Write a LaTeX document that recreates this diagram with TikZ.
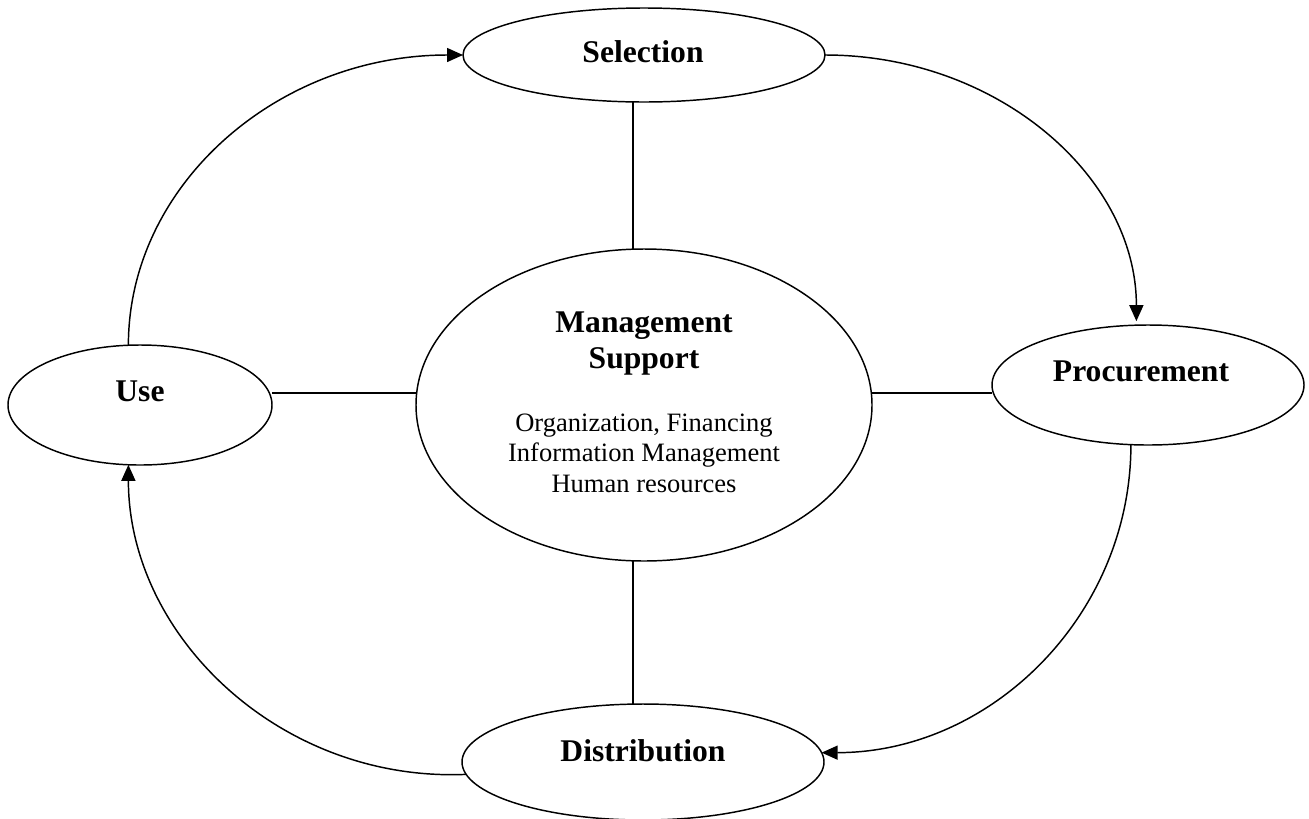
\documentclass[tikz,border=0pt]{standalone}
\usepackage{fontspec}
\setmainfont{Liberation Serif}
\usetikzlibrary{shapes.geometric,arrows.meta,calc}

\begin{document}
\begin{tikzpicture}[
  x=0.75pt, y=-0.75pt,
  line width=1.1pt,
  stage/.style={draw, ellipse, inner sep=0pt, outer sep=0pt},
  title/.style={anchor=base, inner sep=0pt, font=\fontsize{23.7}{27}\selectfont\bfseries},
  detail/.style={anchor=base, inner sep=0pt, font=\fontsize{19.9}{22.5}\selectfont},
  flow/.style={-{Triangle[length=12pt,width=10.5pt]}},
]
\useasboundingbox (0,0) rectangle (1309,818);

% stage ellipses
\node[stage, minimum width=271.5pt, minimum height=70.5pt] (selection) at (644,55) {};
\node[stage, minimum width=234pt, minimum height=90pt] (procurement) at (1148,385) {};
\node[stage, minimum width=198pt, minimum height=90pt] (use) at (140,405) {};
\node[stage, minimum width=271.5pt, minimum height=87pt] (distribution) at (643,762) {};
\node[stage, minimum width=342pt, minimum height=234pt] (mgmt) at (644,405) {};

% labels
\node[title] (selT) at (643,62) {Selection};
\node[title] (proT) at (1141,381) {Procurement};
\node[title] (useT) at (140,401) {Use};
\node[title] (disT) at (643,761) {Distribution};
\node[title] (mgT1) at (644,332) {Management};
\node[title] (mgT2) at (644,368) {Support};
\node[detail] (mgD1) at (644,431) {Organization, Financing};
\node[detail] (mgD2) at (644,461) {Information Management};
\node[detail] (mgD3) at (644,492) {Human resources};

% spokes from the management hub
\draw (mgmt.94) -- (mgmt.94 |- selection.south);
\draw (mgmt.266) -- (mgmt.266 |- distribution.north);
\draw (mgmt.177) -- (mgmt.177 -| use.east);
\draw (mgmt.3) -- (mgmt.3 -| procurement.west);

% the cycle
\draw[flow] (use.101) .. controls +(0,-160) and +(-186,0) .. (selection.west);
\draw[flow, shorten >=3pt] (selection.east) .. controls +(172,0) and +(0,-149) .. (procurement.101);
\draw[flow] (procurement.254) .. controls +(0,170) and +(170,0) .. (distribution.3);
\draw[flow] (distribution.184) .. controls +(-185,8) and +(0,172) .. (use.259);
\end{tikzpicture}
\end{document}
